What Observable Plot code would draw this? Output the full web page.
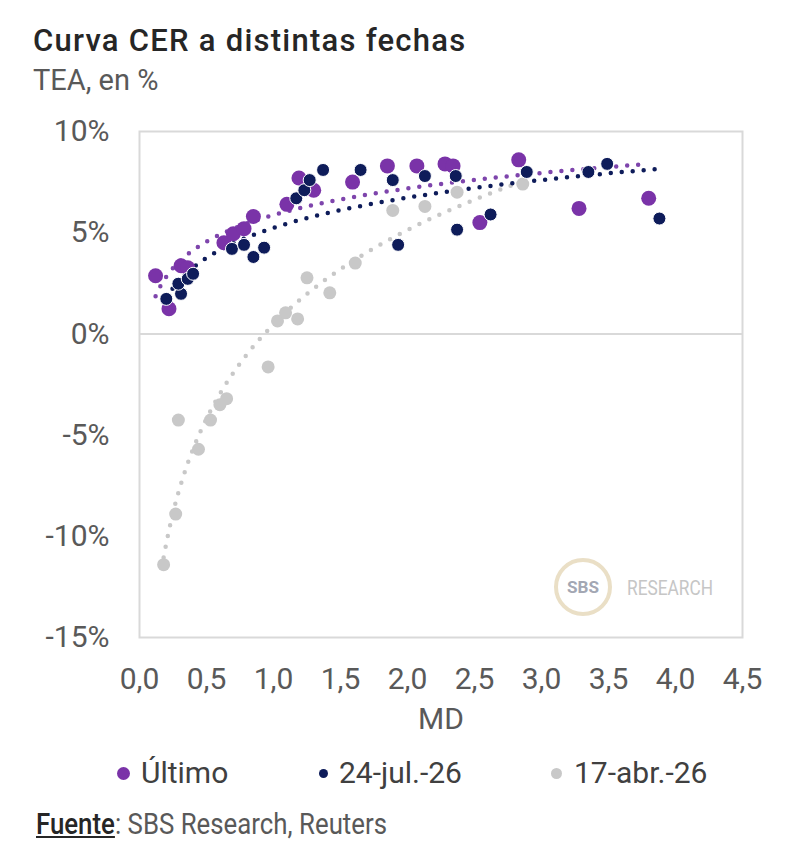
<!DOCTYPE html>
<html>
<head>
<meta charset="utf-8">
<script src="https://cdn.jsdelivr.net/npm/d3@7"></script>
<script src="https://cdn.jsdelivr.net/npm/@observablehq/plot@0.6"></script>
<style>
  body { margin: 0; background: #fff; }
  #wrap { position: relative; width: 800px; height: 862px; background: #fff; font-family: Roboto, sans-serif; overflow: hidden; }
  .abs { position: absolute; line-height: 1; white-space: nowrap; }
</style>
</head>
<body>
<div id="wrap">
  <div class="abs" id="title" style="left:33px; top:25px; font-size:31px; font-weight:500; color:#262626; letter-spacing:1.25px;">Curva CER a distintas fechas</div>
  <div class="abs" id="subtitle" style="left:33px; top:66px; font-size:29px; color:#595959;">TEA, en %</div>
  <div id="chart" style="position:absolute; left:0; top:100px;"></div>
  <svg id="logo" style="position:absolute; left:540px; top:550px;" width="200" height="76">
    <circle cx="43" cy="37" r="27" fill="none" stroke="#EADFC6" stroke-width="4"></circle>
    <text x="43" y="43" text-anchor="middle" font-family="Roboto" font-weight="700" font-size="17" fill="#A3A7B3" textLength="32" lengthAdjust="spacingAndGlyphs">SBS</text>
    <text x="87" y="45" font-family="Roboto" font-size="21" fill="#C6C6C6" textLength="86" lengthAdjust="spacingAndGlyphs">RESEARCH</text>
  </svg>
  <div id="legend"></div>
  <div class="abs" id="source" style="left:36px; top:810px; font-size:29px; color:#595959; transform:scaleX(0.89); transform-origin:left center;"><span style="color:#262626; font-weight:500; text-decoration:underline;">Fuente</span>: SBS Research, Reuters</div>
</div>
<script>
// ---- Data ----
// Último
const mdUltimo  = [0.12, 0.22, 0.31, 0.36, 0.63, 0.70, 0.78, 0.85, 1.10, 1.19, 1.30, 1.59, 1.85, 2.07, 2.28, 2.34, 2.54, 2.83, 3.28, 3.80];
const teaUltimo = [2.87, 1.24, 3.37, 3.27, 4.50, 4.95, 5.20, 5.80, 6.40, 7.70, 7.10, 7.50, 8.30, 8.30, 8.40, 8.30, 5.50, 8.60, 6.20, 6.70];
// 24-jul.-26
const mdJul  = [0.20, 0.31, 0.29, 0.36, 0.40, 0.69, 0.78, 0.85, 0.93, 1.17, 1.23, 1.27, 1.37, 1.65, 1.89, 1.93, 2.13, 2.36, 2.37, 2.62, 2.89, 3.35, 3.49, 3.88];
const teaJul = [1.73, 1.98, 2.48, 2.72, 2.97, 4.20, 4.40, 3.80, 4.26, 6.70, 7.10, 7.60, 8.10, 8.10, 7.60, 4.40, 7.80, 7.80, 5.15, 5.90, 8.00, 8.00, 8.40, 5.70];
// 17-abr.-26
const mdAbr  = [0.18, 0.27, 0.29, 0.44, 0.53, 0.60, 0.65, 0.96, 1.03, 1.09, 1.18, 1.25, 1.42, 1.61, 1.89, 2.13, 2.37, 2.86];
const teaAbr = [-11.4, -8.9, -4.26, -5.7, -4.26, -3.5, -3.2, -1.63, 0.64, 1.04, 0.74, 2.77, 2.03, 3.5, 6.1, 6.3, 7.0, 7.4];

const seriesNames = ["Último", "24-jul.-26", "17-abr.-26"];
const seriesColors = ["#7A33A8", "#0E1C5A", "#C8C8C8"];
const xTicks = [0, 0.5, 1, 1.5, 2, 2.5, 3, 3.5, 4, 4.5];
const yTicks = [-15, -10, -5, 0, 5, 10];

const toRows = (xs, ys, s) => xs.map((x, i) => ({md: x, tea: ys[i], serie: s}));
const ultimo = toRows(mdUltimo, teaUltimo, seriesNames[0]);
const jul = toRows(mdJul, teaJul, seriesNames[1]);
const abr = toRows(mdAbr, teaAbr, seriesNames[2]);

// Logarithmic trendline (least squares of tea on ln(md)), as in the source chart
function logTrend(rows) {
  const lx = rows.map(d => Math.log(d.md)), ly = rows.map(d => d.tea);
  const mx = d3.mean(lx), my = d3.mean(ly);
  const b = d3.sum(lx, (v, i) => (v - mx) * (ly[i] - my)) / d3.sum(lx, v => (v - mx) ** 2);
  const a = my - b * mx;
  const [x0, x1] = d3.extent(rows, d => d.md);
  return d3.range(0, 201).map(i => {
    const x = x0 + (x1 - x0) * i / 200;
    return {md: x, tea: a + b * Math.log(x)};
  });
}

const dotted = (rows, color, w) => Plot.line(logTrend(rows), {
  x: "md", y: "tea", stroke: color, strokeWidth: w,
  strokeDasharray: "0 11", strokeLinecap: "round", curve: "linear"
});

const chart = Plot.plot({
  width: 800,
  height: 640,
  marginTop: 31,
  marginBottom: 103,
  marginLeft: 139,
  marginRight: 58,
  style: {fontFamily: "Roboto, sans-serif", fontSize: "30px", color: "#595959", background: "transparent"},
  x: {domain: [0, 4.5], ticks: xTicks, tickFormat: d => d.toFixed(1).replace(".", ",")},
  y: {domain: [-15, 10], ticks: yTicks, tickFormat: d => d + "%"},
  marks: [
    Plot.frame({stroke: "#D9D9D9", strokeWidth: 2}),
    Plot.ruleY([0], {stroke: "#D9D9D9", strokeWidth: 2}),
    Plot.axisX({ticks: xTicks, tickSize: 0, tickPadding: 30, label: null, tickFormat: d => d.toFixed(1).replace(".", ",")}),
    Plot.axisY({ticks: yTicks, tickSize: 0, tickPadding: 30, label: null, tickFormat: d => d + "%"}),
    Plot.text(["MD"], {frameAnchor: "bottom", text: d => d, dy: 91, fill: "#595959", fontSize: 30}),
    dotted(abr, seriesColors[2], 4.5),
    dotted(jul, seriesColors[1], 4.5),
    dotted(ultimo, "#7E45AC", 4.5),
    Plot.dot(abr, {x: "md", y: "tea", r: 6.5, fill: seriesColors[2]}),
    Plot.dot(ultimo, {x: "md", y: "tea", r: 7.5, fill: seriesColors[0]}),
    Plot.dot(jul, {x: "md", y: "tea", r: 6.5, fill: seriesColors[1], stroke: "#ffffff", strokeWidth: 1})
  ]
});
document.getElementById("chart").appendChild(chart);

// Legend
const legendPos = [{dot: 123, text: 141, r: 6.5}, {dot: 323, text: 339, r: 4.5}, {dot: 556, text: 574, r: 5.5}];
const legend = document.getElementById("legend");
seriesNames.forEach((name, i) => {
  const p = legendPos[i];
  const dot = document.createElement("div");
  dot.style.cssText = `position:absolute; left:${p.dot - p.r}px; top:${773 - p.r}px; width:${2 * p.r}px; height:${2 * p.r}px; border-radius:50%; background:${seriesColors[i]};`;
  legend.appendChild(dot);
  const t = document.createElement("div");
  t.className = "abs";
  t.style.cssText += `left:${p.text}px; top:758px; font-size:30px; color:#404040;`;
  t.textContent = name;
  legend.appendChild(t);
});
</script>
</body>
</html>
